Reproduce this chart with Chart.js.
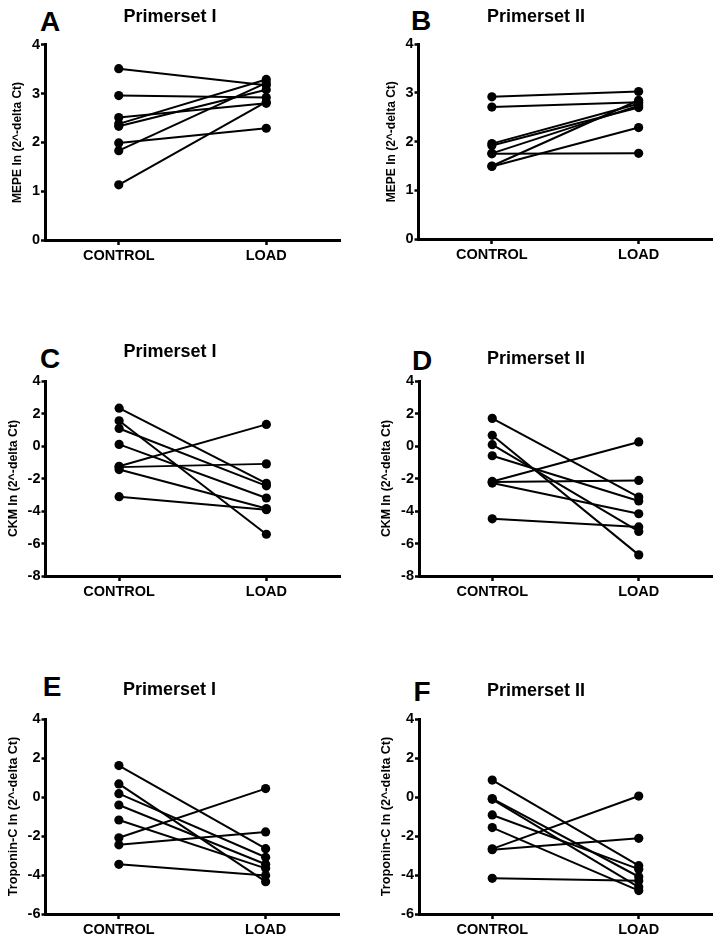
<!DOCTYPE html>
<html><head><meta charset="utf-8">
<script src="https://cdn.jsdelivr.net/npm/chart.js@4.4.1/dist/chart.umd.min.js"></script>
<style>
html,body{margin:0;padding:0;background:#fff}
body{width:720px;height:942px;position:relative;overflow:hidden;font-family:"Liberation Sans",Arial,sans-serif}
canvas{position:absolute}
.lab{position:absolute;font-weight:bold;font-size:28px;line-height:1;transform:translate(-50%,-50%);color:#000}
</style></head><body>
<div class="lab" style="left:50px;top:22px">A</div>
<div class="lab" style="left:421px;top:21px">B</div>
<div class="lab" style="left:50px;top:359px">C</div>
<div class="lab" style="left:422px;top:361px">D</div>
<div class="lab" style="left:52px;top:687px">E</div>
<div class="lab" style="left:422px;top:692px">F</div>
<script>
// ---- data ----
const categories = ['CONTROL', 'LOAD'];

const mepeTicks = [0, 1, 2, 3, 4];
const ckmTicks = [-8, -6, -4, -2, 0, 2, 4];
const tropTicks = [-6, -4, -2, 0, 2, 4];

const aControl = [3.51, 2.96, 2.51, 2.38, 2.33, 1.99, 1.83, 1.13];
const aLoad    = [3.17, 2.92, 2.80, 3.29, 3.08, 2.29, 3.22, 2.83];

const bControl = [2.92, 2.71, 1.96, 1.92, 1.76, 1.75, 1.50, 1.49];
const bLoad    = [3.03, 2.81, 2.78, 2.70, 2.74, 1.76, 2.85, 2.29];

const cControl = [2.33, 1.55, 1.08, 0.10, -1.25, -1.30, -1.45, -3.12];
const cLoad    = [-2.30, -5.43, -2.45, -3.20, 1.33, -1.10, -3.85, -3.92];

const dControl = [1.70, 0.66, 0.08, -0.60, -2.18, -2.22, -2.28, -4.48];
const dLoad    = [-3.14, -6.70, -5.26, -3.38, 0.25, -2.12, -4.17, -4.98];

const eControl = [1.61, 0.67, 0.17, -0.41, -1.18, -2.09, -2.45, -3.45];
const eLoad    = [-2.65, -4.34, -3.09, -3.45, -3.66, 0.43, -1.79, -4.03];

const fControl = [0.87, -0.08, -0.12, -0.92, -1.57, -2.66, -2.70, -4.17];
const fLoad    = [-3.52, -4.09, -4.62, -3.70, -4.80, 0.05, -2.12, -4.30];

const titles = ['Primerset I', 'Primerset II'];
const yTitles = ['MEPE In (2^-delta Ct)', 'CKM In (2^-delta Ct)', 'Troponin-C In (2^-delta Ct)'];

// ---- layout ----
const panels = [
  {control: aControl, load: aLoad, title: titles[0], ytitle: yTitles[0], ytSize: 12,   ticks: mepeTicks, left: 0,   axisX: 45,   right: 340, titleY: 16.5, top: 44.3, bottom: 239,   ytitleX: 17.5},
  {control: bControl, load: bLoad, title: titles[1], ytitle: yTitles[0], ytSize: 12,   ticks: mepeTicks, left: 360, axisX: 418.5, right: 712, titleY: 17,   top: 44.3, bottom: 239,   ytitleX: 391.5},
  {control: cControl, load: cLoad, title: titles[0], ytitle: yTitles[1], ytSize: 12.3, ticks: ckmTicks,  left: 0,   axisX: 45.5, right: 340, titleY: 352,  top: 381,  bottom: 575.7, ytitleX: 14},
  {control: dControl, load: dLoad, title: titles[1], ytitle: yTitles[1], ytSize: 12.3, ticks: ckmTicks,  left: 360, axisX: 419,  right: 712, titleY: 359,  top: 381,  bottom: 575.7, ytitleX: 387},
  {control: eControl, load: eLoad, title: titles[0], ytitle: yTitles[2], ytSize: 12.7, ticks: tropTicks, left: 0,   axisX: 45.5, right: 339, titleY: 690,  top: 719,  bottom: 914,   ytitleX: 13.5},
  {control: fControl, load: fLoad, title: titles[1], ytitle: yTitles[2], ytSize: 12.7, ticks: tropTicks, left: 360, axisX: 419,  right: 712, titleY: 691,  top: 719,  bottom: 914,   ytitleX: 386.5}
];

Chart.defaults.font.family = '"Liberation Sans", Arial, sans-serif';
Chart.defaults.color = '#000';

const TITLE_SIZE = 18, TITLE_LH = 1.2;
const YT_LH = 1.2;
const XAXIS_H = 30;

panels.forEach((p) => {
  const canvasTop = p.titleY - 20;
  const height = Math.round(p.bottom + XAXIS_H - canvasTop);
  const cv = document.createElement('canvas');
  cv.width = 360; cv.height = height;
  cv.style.left = p.left + 'px';
  cv.style.top = canvasTop + 'px';
  cv.style.width = '360px'; cv.style.height = height + 'px';
  document.body.appendChild(cv);

  const titlePadTop = 20 - TITLE_SIZE * TITLE_LH / 2;
  const titlePadBottom = (p.top - canvasTop) - titlePadTop - TITLE_SIZE * TITLE_LH;

  const datasets = p.control.map((c, i) => ({
    data: [c, p.load[i]],
    borderColor: '#000',
    backgroundColor: '#000',
    borderWidth: 2,
    pointRadius: 4.6,
    pointHoverRadius: 4.6,
    pointBackgroundColor: '#000',
    pointBorderColor: '#000',
    pointBorderWidth: 0,
    tension: 0,
    fill: false
  }));

  new Chart(cv.getContext('2d'), {
    type: 'line',
    data: {labels: categories, datasets},
    options: {
      responsive: false,
      animation: false,
      devicePixelRatio: 1,
      layout: {padding: {left: 0, top: 0, bottom: 0, right: p.left + 360 - p.right}},
      plugins: {
        legend: {display: false},
        tooltip: {enabled: false},
        title: {
          display: true,
          text: p.title,
          color: '#000',
          font: {size: TITLE_SIZE, weight: 'bold', lineHeight: TITLE_LH},
          padding: {top: titlePadTop, bottom: titlePadBottom}
        }
      },
      scales: {
        x: {
          type: 'category',
          offset: true,
          grid: {display: true, drawOnChartArea: false, drawTicks: true, tickLength: 5, color: '#000', tickColor: '#000', tickWidth: 2.5, offset: false},
          border: {display: true, color: '#000', width: 3},
          ticks: {color: '#000', font: {size: 14.5, weight: 'bold'}, padding: 2, maxRotation: 0},
          afterFit: (s) => { s.height = XAXIS_H; }
        },
        y: {
          min: p.ticks[0],
          max: p.ticks[p.ticks.length - 1],
          afterBuildTicks: (s) => { s.ticks = p.ticks.map(v => ({value: v})); },
          grid: {display: true, drawOnChartArea: false, drawTicks: true, tickLength: 4, color: '#000', tickColor: '#000', tickWidth: 2.5},
          border: {display: true, color: '#000', width: 3},
          ticks: {color: '#000', font: {size: 14.5, weight: 'bold'}, padding: 1},
          title: {
            display: true,
            text: p.ytitle,
            color: '#000',
            font: {size: p.ytSize, weight: 'bold', lineHeight: YT_LH},
            padding: {top: (p.ytitleX - p.left) - p.ytSize * YT_LH / 2, bottom: 0}
          },
          afterFit: (s) => { s.width = p.axisX - p.left; }
        }
      }
    }
  });
});
</script>
</body></html>
